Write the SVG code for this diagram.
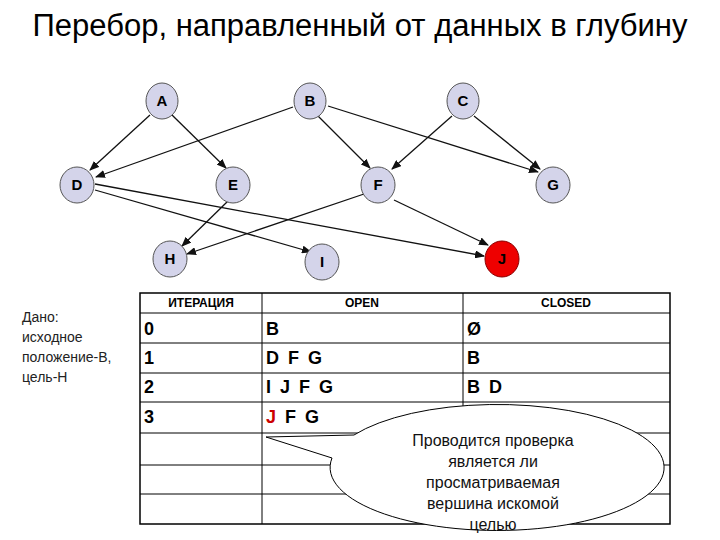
<svg xmlns="http://www.w3.org/2000/svg" width="720" height="540" viewBox="0 0 720 540">
<style>
.n ellipse{fill:#d4d4ea;stroke:#555;stroke-width:1}
.n text{font:bold 15px "Liberation Sans",Arial,sans-serif;text-anchor:middle}
.e line{stroke:#111;stroke-width:1.3;marker-end:url(#ah)}
.t{font-family:"Liberation Sans",Arial,sans-serif}
.g line{stroke:#000;stroke-width:1}
.c{font:bold 18px "Liberation Sans",Arial,sans-serif;letter-spacing:2px}
.h{font:bold 12px "Liberation Sans",Arial,sans-serif;text-anchor:middle}
</style>
<defs><marker id="ah" markerWidth="10" markerHeight="8" refX="9" refY="4" orient="auto" markerUnits="userSpaceOnUse"><path d="M0,0L10,4L0,8z" fill="#111"/></marker></defs>
<rect width="720" height="540" fill="#fff"/>
<text x="360" y="36" class="t" font-size="31" text-anchor="middle">Перебор, направленный от данных в глубину</text>
<g class="e" id="edges">
<line x1="150" y1="115" x2="90" y2="170"/>
<line x1="172" y1="115" x2="226" y2="168"/>
<line x1="293" y1="107" x2="96" y2="177"/>
<line x1="318" y1="116" x2="370" y2="168"/>
<line x1="328" y1="106" x2="538" y2="172"/>
<line x1="452" y1="116" x2="392" y2="169"/>
<line x1="474" y1="116" x2="540" y2="169"/>
<line x1="95" y1="190" x2="311" y2="252"/>
<line x1="95" y1="184" x2="484" y2="256"/>
<line x1="228" y1="201" x2="182" y2="246"/>
<line x1="364" y1="194" x2="187" y2="254"/>
<line x1="394" y1="200" x2="488" y2="245"/>
</g>
<g class="n" id="A"><ellipse cx="162" cy="101" rx="16" ry="18"/><text x="162" y="106">A</text></g>
<g class="n" id="B"><ellipse cx="310" cy="101" rx="16" ry="18"/><text x="310" y="106">B</text></g>
<g class="n" id="C"><ellipse cx="463" cy="101" rx="16" ry="18"/><text x="463" y="106">C</text></g>
<g class="n" id="D"><ellipse cx="77" cy="185" rx="17" ry="18"/><text x="77" y="190">D</text></g>
<g class="n" id="E"><ellipse cx="233" cy="185" rx="17" ry="18"/><text x="233" y="190">E</text></g>
<g class="n" id="F"><ellipse cx="378" cy="185" rx="17" ry="18"/><text x="378" y="190">F</text></g>
<g class="n" id="G"><ellipse cx="553" cy="185" rx="17" ry="18"/><text x="553" y="190">G</text></g>
<g class="n" id="H"><ellipse cx="170" cy="259" rx="17" ry="18"/><text x="170" y="264">H</text></g>
<g class="n" id="I"><ellipse cx="322" cy="262" rx="17" ry="18"/><text x="322" y="267">I</text></g>
<g class="n" id="J"><ellipse cx="502" cy="259" rx="17" ry="18" style="fill:#e00;stroke:#800"/><text x="502" y="264">J</text></g>
<g id="given" class="t" font-size="14" fill="#222">
<text x="22" y="322">Дано:</text><text x="22" y="342">исходное</text><text x="22" y="362">положение-В,</text><text x="22" y="382">цель-Н</text>
</g>
<g id="table" class="g">
<rect x="140" y="293" width="530" height="231" fill="none" stroke="#000" stroke-width="1.5"/>
<line x1="262" y1="293" x2="262" y2="524"/><line x1="463" y1="293" x2="463" y2="524"/>
<line x1="140" y1="313" x2="670" y2="313"/><line x1="140" y1="343" x2="670" y2="343"/><line x1="140" y1="373" x2="670" y2="373"/><line x1="140" y1="402" x2="670" y2="402"/><line x1="140" y1="433" x2="670" y2="433"/><line x1="140" y1="465" x2="670" y2="465"/><line x1="140" y1="494" x2="670" y2="494"/>
<text class="h" x="201" y="307">ИТЕРАЦИЯ</text><text class="h" x="362" y="307">OPEN</text><text class="h" x="566" y="307">CLOSED</text>
<text class="c" x="144" y="335">0</text><text class="c" x="144" y="364">1</text><text class="c" x="144" y="393">2</text><text class="c" x="144" y="423">3</text>
<text class="c" x="266" y="335">B</text><text class="c" x="266" y="364">D F G</text><text class="c" x="266" y="393">I J F G</text><text class="c" x="266" y="423"><tspan fill="#c00">J</tspan> F G</text>
<text class="c" x="467" y="335">Ø</text><text class="c" x="467" y="364">B</text><text class="c" x="467" y="393">B D</text>
</g>
<g id="callout">
<path d="M354,435 A167,63 0 1 1 332,458 L266,437 Z" fill="#fff" stroke="#000" stroke-width="1"/>
<g class="t" font-size="16" text-anchor="middle" fill="#111"><text x="493" y="446">Проводится проверка</text><text x="493" y="467">является ли</text><text x="493" y="488">просматриваемая</text><text x="493" y="509">вершина искомой</text><text x="493" y="530">целью</text></g>
</g>
</svg>
